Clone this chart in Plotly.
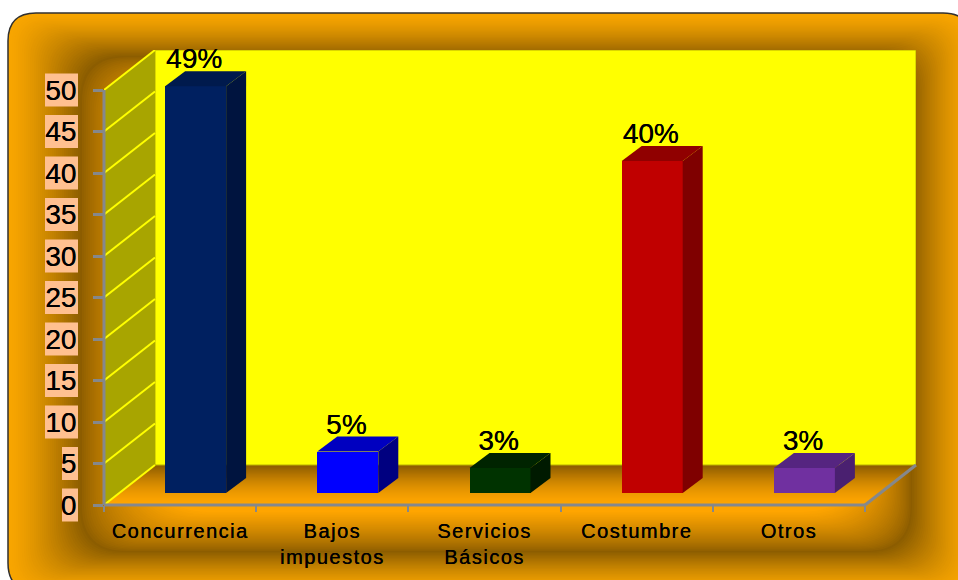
import plotly.graph_objects as go

categories = ["Concurrencia", "Bajos<br>impuestos", "Servicios<br>Básicos", "Costumbre", "Otros"]
values = [49, 5, 3, 40, 3]
labels = ["49%", "5%", "3%", "40%", "3%"]
y_ticks = [0, 5, 10, 15, 20, 25, 30, 35, 40, 45, 50]
front_colors = ["#002060", "#0000FF", "#003300", "#C00000", "#7030A0"]
side_colors = ["#00143F", "#000080", "#001A00", "#7F0000", "#4A2070"]
top_colors = ["#001A4D", "#0000C0", "#002400", "#900000", "#552580"]

W, H = 958, 580
PX_L, PX_R, PX_T, PX_B = 104, 916, 50, 505
SLOT = 152.2
UNIT = 8.3
X0 = -0.5
WALL_DX, WALL_DY = 51 / SLOT, 40 / UNIT
BAR_W = 61 / SLOT
BAR_SHIFT = 15.5 / SLOT
BAR_BASE = 12 / UNIT
BAR_DX, BAR_DY = 20 / SLOT, 15 / UNIT
X_END = X0 + len(categories)
GRAY = "#85888C"
THICK = "0.3px 0 0.4px black"
THIN = "0.3px 0 0.3px black"


def px(x):
    return x / W


def py(y):
    return 1 - y / H


def val_px(v):
    return PX_B - v * UNIT


def rrect(x0, y0, x1, y1, r):
    p = [("M", x0 + r, y0), ("L", x1 - r, y0), ("Q", x1, y0, x1, y0 + r), ("L", x1, y1 - r),
         ("Q", x1, y1, x1 - r, y1), ("L", x0 + r, y1), ("Q", x0, y1, x0, y1 - r),
         ("L", x0, y0 + r), ("Q", x0, y0, x0 + r, y0)]
    s = ""
    for seg in p:
        s += seg[0]
        c = seg[1:]
        s += " ".join(f"{px(c[i]):.5f},{py(c[i + 1]):.5f}" for i in range(0, len(c), 2)) + " "
    return s + "Z"


def mix(a, b, t):
    return "rgb(" + ",".join(str(round(a[i] + (b[i] - a[i]) * t)) for i in range(3)) + ")"


def lerp(a, b, t):
    return tuple(a[i] + (b[i] - a[i]) * t for i in range(len(a)))


EDGE = (248, 165, 0)
DARK = (140, 93, 0)
BRIGHT = (255, 165, 0)
R_OUT = (8, 13, 971, 591, 28)
R_DARK = (80, 56, 912, 552, 44)
R_IN = (150, 100, 860, 512, 60)

shapes = []
shapes.append(dict(type="path", path=rrect(*R_OUT), xref="paper", yref="paper", layer="below",
                   fillcolor=mix(EDGE, EDGE, 0), line=dict(color="#303030", width=1.5)))
N = 36
for i in range(1, N + 1):
    t = i / N
    r = lerp(R_OUT, R_DARK, t)
    shapes.append(dict(type="path", path=rrect(*r), xref="paper", yref="paper", layer="below",
                       fillcolor=mix(EDGE, DARK, t ** 1.4), line=dict(width=0)))
for i in range(1, N + 1):
    t = i / N
    r = lerp(R_DARK, R_IN, t)
    shapes.append(dict(type="path", path=rrect(*r), xref="paper", yref="paper", layer="below",
                       fillcolor=mix(DARK, BRIGHT, t ** 0.8), line=dict(width=0)))


def poly(xs, ys, **kw):
    path = "M" + " L".join(f"{x:.4f},{y:.4f}" for x, y in zip(xs, ys)) + " Z"
    return dict(type="path", path=path, xref="x", yref="y", layer="below", **kw)


# floor: front (orange) to back (brown)
F = 20
for i in range(F):
    a, b = i / F, (i + 1) / F
    xs = [X0 + a * WALL_DX, X_END + a * WALL_DX, X_END + b * WALL_DX, X0 + b * WALL_DX]
    ys = [a * WALL_DY, a * WALL_DY, b * WALL_DY, b * WALL_DY]
    c = mix(BRIGHT, (140, 92, 0), ((i + .5) / F) ** 1.6)
    shapes.append(poly(xs, ys, fillcolor=c, line=dict(width=1, color=c)))

top = max(y_ticks)
# back wall
shapes.append(poly([X0 + WALL_DX, X_END + WALL_DX, X_END + WALL_DX, X0 + WALL_DX],
                   [WALL_DY, WALL_DY, top + WALL_DY, top + WALL_DY],
                   fillcolor="#FFFF00", line=dict(color="#B9B000", width=1)))
# left wall
shapes.append(poly([X0, X0 + WALL_DX, X0 + WALL_DX, X0], [0, WALL_DY, top + WALL_DY, top],
                   fillcolor="#A8A500", line=dict(width=0)))
for v in y_ticks:
    shapes.append(dict(type="line", xref="x", yref="y", layer="below", x0=X0, x1=X0 + WALL_DX,
                       y0=v, y1=v + WALL_DY, line=dict(color="#FFFF00", width=2)))
# peach boxes behind tick labels
for v in y_ticks:
    w = 33 if len(str(v)) == 2 else 16
    shapes.append(dict(type="rect", xref="paper", yref="paper", layer="below", x0=px(78 - w), x1=px(78),
                       y0=py(val_px(v) + 16.5), y1=py(val_px(v) - 16.5), fillcolor="#FFC090", line=dict(width=0)))

# axis lines, drawn in page fractions so they are not clipped at the plot edge
x_end_px = PX_L + (X_END - X0) * SLOT
axis_pts = [(PX_L, val_px(top)), (PX_L, PX_B), (x_end_px, PX_B), (PX_R, PX_B - 40)]
for (ax, ay), (bx, by) in zip(axis_pts[:-1], axis_pts[1:]):
    shapes.append(dict(type="line", xref="paper", yref="paper", layer="above", x0=px(ax), x1=px(bx),
                       y0=py(ay), y1=py(by), line=dict(color=GRAY, width=3)))

idx = list(range(len(categories)))
fig = go.Figure()
fig.add_trace(go.Bar(x=[i + BAR_SHIFT for i in idx], y=values, base=BAR_BASE, width=BAR_W,
                     marker=dict(color=front_colors, line=dict(width=0)), hoverinfo="skip", showlegend=False))

for i, v in zip(idx, values):
    xl = i + BAR_SHIFT - BAR_W / 2
    xr = i + BAR_SHIFT + BAR_W / 2
    yb = BAR_BASE
    yt = BAR_BASE + v
    fig.add_trace(go.Scatter(x=[xr, xr + BAR_DX, xr + BAR_DX, xr, xr], y=[yb, yb + BAR_DY, yt + BAR_DY, yt, yb],
                             mode="lines", fill="toself", fillcolor=side_colors[i], line=dict(width=0),
                             hoverinfo="skip", showlegend=False))
    fig.add_trace(go.Scatter(x=[xl, xr, xr + BAR_DX, xl + BAR_DX, xl], y=[yt, yt, yt + BAR_DY, yt + BAR_DY, yt],
                             mode="lines", fill="toself", fillcolor=top_colors[i], line=dict(width=0),
                             hoverinfo="skip", showlegend=False))

fig.add_trace(go.Scatter(x=[i + BAR_SHIFT + BAR_DX / 2 - 11.5 / SLOT for i in idx],
                         y=[BAR_BASE + v + BAR_DY - 4 / UNIT for v in values],
                         mode="text", text=labels, textposition="top center",
                         textfont=dict(family="Liberation Sans", size=28, color="black", shadow=THICK),
                         cliponaxis=False, hoverinfo="skip", showlegend=False))

fig.update_layout(
    width=W, height=H, margin=dict(l=0, r=0, t=0, b=0), autosize=False,
    paper_bgcolor="white", plot_bgcolor="rgba(0,0,0,0)", shapes=shapes, showlegend=False,
    bargap=0,
    xaxis=dict(domain=[px(PX_L), px(PX_R)], range=[X0, X_END + WALL_DX], tickmode="array", tickvals=idx,
               ticktext=categories, ticks="", showgrid=False, zeroline=False, showline=False, automargin=False,
               ticklabelstandoff=12, tickfont=dict(family="Liberation Sans", size=20, color="black", shadow=THIN),
               minor=dict(tickmode="array", tickvals=[i - .5 for i in idx] + [X_END], ticks="outside",
                          ticklen=6, tickwidth=2, tickcolor=GRAY, showgrid=False)),
    yaxis=dict(domain=[py(PX_B), py(PX_T)], range=[0, (PX_B - PX_T) / UNIT], tickmode="array", tickvals=y_ticks,
               ticktext=[str(v) for v in y_ticks], ticks="outside", ticklen=10, tickwidth=2.5, tickcolor=GRAY,
               showgrid=False, zeroline=False, showline=False, ticklabelstandoff=11, automargin=False,
               tickfont=dict(family="Liberation Sans", size=28, color="black", shadow=THICK)),
)
fig.write_html("out.html", config={"displayModeBar": False},
               post_script="document.body.style.margin='0';document.documentElement.style.overflow='hidden';"
                           "var s=document.createElement('style');s.textContent='.xtick text{letter-spacing:1.5px}';"
                           "document.head.appendChild(s);")
